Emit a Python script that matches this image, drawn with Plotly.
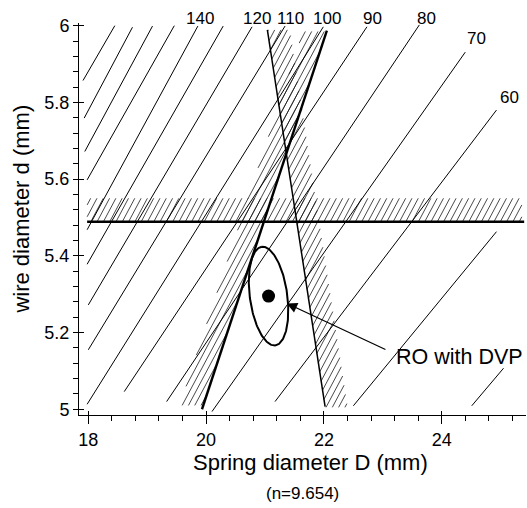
import numpy as np
import plotly.graph_objects as go

# ---------------- data ----------------
# iso-lines (thin family), start/end points (D in mm, d in mm)
iso_values = [180, 170, 160, 150, 140, 130, 120, 110, 100, 90, 80, 70, 60, 50, 40]
iso_labels = ["", "", "", "", "140", "", "120", "110", "100", "90", "80", "70", "60", "", ""]
iso_D0 = [17.91, 17.93, 17.94, 17.98, 17.98, 17.98, 18.00, 18.00, 17.98, 18.61, 19.33, 20.10, 21.17, 22.50, 24.51]
iso_d0 = [5.857, 5.759, 5.672, 5.598, 5.468, 5.378, 5.272, 5.155, 5.013, 5.046, 5.020, 4.994, 5.020, 5.009, 5.009]
iso_D1 = [18.45, 18.75, 19.09, 19.46, 19.86, 20.29, 20.78, 21.34, 21.99, 22.73, 23.62, 24.40, 24.93, 24.93, 25.05]
iso_d1 = [6.000, 5.996, 5.999, 6.000, 5.999, 5.999, 5.997, 5.999, 5.997, 5.997, 6.002, 5.931, 5.780, 5.463, 5.107]

# label anchor positions for the labelled iso-lines (D in data, d in data)
label_D = {"140": 19.90, "120": 20.86, "110": 21.44, "100": 22.05, "90": 22.82, "80": 23.75, "70": 24.59, "60": 25.15}
label_d = {"140": 6.020, "120": 6.020, "110": 6.020, "100": 6.020, "90": 6.020, "80": 6.020, "70": 5.966, "60": 5.813}

# horizontal constraint d = const with hatched band above
h_line_d = 5.489
h_line_D = [17.98, 25.40]
h_band_top = 5.550
h_band_D = [17.98, 25.36]

# steep rising constraint (thick) with hatched band on its left
pos_line_D = [19.93, 22.05]
pos_line_d = [5.000, 5.987]
pos_band_width = 0.40
pos_band_d = [5.010, 5.985]

# steep falling constraint (thin) with hatched band on its right
neg_line_D = [21.04, 22.02]
neg_line_d = [5.989, 5.007]
neg_band_width = 0.38
neg_band_d = [5.005, 5.989]

# robust optimum with design variable tolerance ellipse
opt_D = 21.06
opt_d = 5.295
ell_major = (-0.115, 0.1285)   # semi-axis vector (D, d)
ell_minor = (0.315, 0.0067)

# arrow for annotation
arrow_head = (21.37, 5.276)
arrow_tail = (23.07, 5.154)
note_text = "RO with DVP"
note_pos = (23.19, 5.135)

x_range = [17.842, 25.431]
y_range = [4.985, 6.007]

FONT = "Liberation Sans, Arial, sans-serif"

# plot area size in px (for hatch geometry)
PLOT_W, PLOT_H = 447, 392
SX = PLOT_W / (x_range[1] - x_range[0])
SY = PLOT_H / (y_range[1] - y_range[0])
HATCH_SPACING = 6.3   # px, measured horizontally
HATCH_ANGLE = 62.0    # degrees from horizontal


def hatch_segments(polyD, polyd):
    P = np.column_stack([np.asarray(polyD) * SX, np.asarray(polyd) * SY])
    a = np.radians(HATCH_ANGLE)
    dvec = np.array([np.cos(a), np.sin(a)])
    nvec = np.array([-np.sin(a), np.cos(a)])
    perp = HATCH_SPACING * np.sin(a)
    ks = P @ nvec
    xs, ys = [], []
    k = np.ceil(ks.min() / perp) * perp
    while k < ks.max():
        ts = []
        for i in range(len(P)):
            A, B = P[i], P[(i + 1) % len(P)]
            fa, fb = A @ nvec - k, B @ nvec - k
            if fa * fb <= 0 and fa != fb:
                t = fa / (fa - fb)
                X = A + t * (B - A)
                ts.append(X @ dvec)
        if len(ts) >= 2:
            p1 = k * nvec + min(ts) * dvec
            p2 = k * nvec + max(ts) * dvec
            xs += [p1[0] / SX, p2[0] / SX, None]
            ys += [p1[1] / SY, p2[1] / SY, None]
        k += perp
    return xs, ys


fig = go.Figure()

# ---------------- hatched bands ----------------
hb_x = [h_band_D[0], h_band_D[1], h_band_D[1], h_band_D[0]]
hb_y = [h_line_d, h_line_d, h_band_top, h_band_top]

pd0, pd1 = pos_band_d
pD0 = np.interp(pd0, pos_line_d, pos_line_D)
pD1 = np.interp(pd1, pos_line_d, pos_line_D)
pb_x = [pD0 - pos_band_width, pD0, pD1, pD1 - pos_band_width]
pb_y = [pd0, pd0, pd1, pd1]

nd_sorted = [neg_line_d[1], neg_line_d[0]]
nD_sorted = [neg_line_D[1], neg_line_D[0]]
nd0, nd1 = neg_band_d
nD0 = np.interp(nd0, nd_sorted, nD_sorted)
nD1 = np.interp(nd1, nd_sorted, nD_sorted)
nb_x = [nD0, nD0 + neg_band_width, nD1 + neg_band_width, nD1]
nb_y = [nd0, nd0, nd1, nd1]

hx, hy = [], []
for bx, by in [(hb_x, hb_y), (pb_x, pb_y), (nb_x, nb_y)]:
    sx_, sy_ = hatch_segments(bx, by)
    hx += sx_
    hy += sy_
fig.add_trace(go.Scatter(x=hx, y=hy, mode="lines", line=dict(color="#1a1a1a", width=0.8),
                         hoverinfo="skip"))

# ---------------- iso-lines ----------------
ix, iy = [], []
for a, b, c, d in zip(iso_D0, iso_d0, iso_D1, iso_d1):
    ix += [a, c, None]
    iy += [b, d, None]
fig.add_trace(go.Scatter(x=ix, y=iy, mode="lines", line=dict(color="black", width=1),
                         hoverinfo="skip"))

# ---------------- constraint lines ----------------
fig.add_trace(go.Scatter(x=h_line_D, y=[h_line_d, h_line_d], mode="lines",
                         line=dict(color="black", width=2.6), hoverinfo="skip"))
fig.add_trace(go.Scatter(x=pos_line_D, y=pos_line_d, mode="lines",
                         line=dict(color="black", width=2.4), hoverinfo="skip"))
fig.add_trace(go.Scatter(x=neg_line_D, y=neg_line_d, mode="lines",
                         line=dict(color="black", width=1.5), hoverinfo="skip"))

# ---------------- ellipse and optimum ----------------
t = np.linspace(0, 2 * np.pi, 200)
ex = opt_D + np.cos(t) * ell_major[0] + np.sin(t) * ell_minor[0]
ey = opt_d + np.cos(t) * ell_major[1] + np.sin(t) * ell_minor[1]
fig.add_trace(go.Scatter(x=ex, y=ey, mode="lines", line=dict(color="black", width=2),
                         hoverinfo="skip"))
fig.add_trace(go.Scatter(x=[opt_D], y=[opt_d], mode="markers",
                         marker=dict(color="black", size=13), hoverinfo="skip"))

# invisible trace for overlay tick axes
fig.add_trace(go.Scatter(x=[None], y=[None], xaxis="x2", yaxis="y2", showlegend=False,
                         hoverinfo="skip"))


def d_to_paper(dv):
    return (dv - y_range[0]) / (y_range[1] - y_range[0])


annotations = []
for lab in iso_labels:
    if lab:
        annotations.append(dict(x=label_D[lab], y=d_to_paper(label_d[lab]), xref="x", yref="paper",
                                text=lab, showarrow=False, xanchor="center", yanchor="middle",
                                font=dict(family=FONT, size=17, color="black")))

annotations.append(dict(x=arrow_head[0], y=arrow_head[1], ax=arrow_tail[0], ay=arrow_tail[1],
                        xref="x", yref="y", axref="x", ayref="y", text="",
                        showarrow=True, arrowhead=2, arrowsize=1.6, arrowwidth=1.3,
                        arrowcolor="black"))
annotations.append(dict(x=note_pos[0], y=note_pos[1], xref="x", yref="y", text=note_text,
                        showarrow=False, xanchor="left", yanchor="middle",
                        font=dict(family=FONT, size=21.5, color="black")))

annotations.append(dict(x=0.5168, y=-0.12, xref="paper", yref="paper",
                        text="Spring diameter D (mm)", showarrow=False,
                        xanchor="center", yanchor="middle",
                        font=dict(family=FONT, size=22, color="black")))
annotations.append(dict(x=0.5, y=-0.2015, xref="paper", yref="paper",
                        text="(n=9.654)", showarrow=False,
                        xanchor="center", yanchor="middle",
                        font=dict(family=FONT, size=17, color="black")))
annotations.append(dict(x=-0.1275, y=0.524, xref="paper", yref="paper",
                        text="wire diameter d (mm)", showarrow=False, textangle=-90,
                        xanchor="center", yanchor="middle",
                        font=dict(family=FONT, size=22, color="black")))

fig.update_layout(
    width=527, height=508,
    margin=dict(l=79, r=1, t=23, b=93),
    paper_bgcolor="white", plot_bgcolor="white",
    showlegend=False,
    hovermode=False,
    font=dict(family=FONT, color="black"),
    annotations=annotations,
    xaxis=dict(range=x_range, showgrid=False, zeroline=False, showline=True,
               linecolor="black", linewidth=1, ticks="outside", ticklen=8, tickwidth=1,
               tickcolor="black", tick0=18, dtick=2,
               tickfont=dict(family=FONT, size=18, color="black"),
               minor=dict(dtick=0.4, tick0=18, ticks="outside", ticklen=5, tickwidth=1,
                          tickcolor="black", showgrid=False)),
    yaxis=dict(range=y_range, showgrid=False, zeroline=False, showline=True,
               linecolor="black", linewidth=1, ticks="outside", ticklen=5, tickwidth=1,
               tickcolor="black", tick0=5, dtick=0.2,
               tickfont=dict(family=FONT, size=18, color="black"),
               minor=dict(dtick=0.04, tick0=5, ticks="outside", ticklen=5, tickwidth=1,
                          tickcolor="black", showgrid=False)),
    xaxis2=dict(range=x_range, overlaying="x", anchor="y2", side="bottom",
                showgrid=False, zeroline=False, showline=False, showticklabels=False,
                ticks="inside", ticklen=4, tickwidth=1, tickcolor="black", tick0=18, dtick=2),
    yaxis2=dict(range=y_range, overlaying="y", anchor="x2", side="left",
                showgrid=False, zeroline=False, showline=False, showticklabels=False,
                ticks="inside", ticklen=5, tickwidth=1, tickcolor="black", tick0=5, dtick=0.2),
)

# remove the browser's default 8 px body margin so the figure fills the window exactly
fig.write_html("out.html",
               config={"displayModeBar": False, "staticPlot": True},
               post_script="document.body.style.margin='0';document.body.style.overflow='hidden';")
